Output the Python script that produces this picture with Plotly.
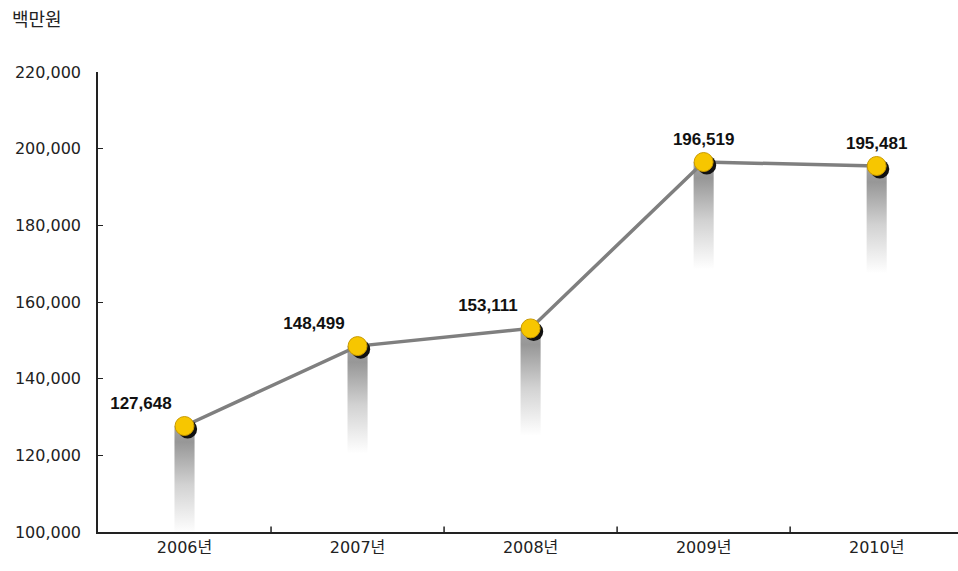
import plotly.graph_objects as go

categories = ["2006년", "2007년", "2008년", "2009년", "2010년"]
values = [127648, 148499, 153111, 196519, 195481]
value_labels = ["127,648", "148,499", "153,111", "196,519", "195,481"]
y_tickvals = [100000, 120000, 140000, 160000, 180000, 200000, 220000]
y_ticktext = ["100,000", "120,000", "140,000", "160,000", "180,000", "200,000", "220,000"]
unit_label = "백만원"

xs = list(range(len(categories)))
fig = go.Figure()

# gradient shadow columns under each point
col_half = 0.058
col_len = 28000
for x, v in zip(xs, values):
    fig.add_trace(go.Scatter(
        x=[x - col_half, x + col_half, x + col_half, x - col_half, x - col_half],
        y=[v, v, v - col_len, v - col_len, v],
        mode="lines", line=dict(width=0), fill="toself",
        fillgradient=dict(type="vertical", start=v - col_len, stop=v,
                          colorscale=[[0, "rgba(255,255,255,1)"], [0.45, "#d2d2d2"],
                                      [0.85, "#979797"], [1, "#a2a2a2"]]),
        hoverinfo="skip", showlegend=False,
    ))

# connecting line
fig.add_trace(go.Scatter(x=xs, y=values, mode="lines",
                         line=dict(color="#7f7f7f", width=3.5),
                         hoverinfo="skip", showlegend=False))

# marker shadows
fig.add_trace(go.Scatter(x=[x + 0.018 for x in xs], y=[v - 800 for v in values],
                         mode="markers",
                         marker=dict(size=19, color="#111111"),
                         hoverinfo="skip", showlegend=False))

# markers with value labels
fig.add_trace(go.Scatter(
    x=xs, y=values, mode="markers+text",
    marker=dict(size=19, color="#F7C600", line=dict(color="#C99A00", width=1)),
    text=value_labels,
    texttemplate="<b>%{text}</b>",
    textposition=["top left", "top left", "top left", "top center", "top center"],
    textfont=dict(family="Liberation Sans, Arial, sans-serif", size=17, color="#111111"),
    showlegend=False,
))

tick_font = dict(family="DejaVu Sans, Noto Sans CJK KR", size=16, color="#222222")

fig.update_layout(
    width=958, height=571,
    margin=dict(l=98, r=0, t=72, b=39),
    paper_bgcolor="white", plot_bgcolor="white",
    xaxis=dict(range=[-0.5, 4.47], tickvals=xs, ticktext=categories,
               showgrid=False, zeroline=False, showline=True,
               linecolor="#222222", linewidth=1.5, ticks="",
               tickfont=tick_font),
    yaxis=dict(range=[100000, 220000], tickvals=y_tickvals, ticktext=y_ticktext,
               showgrid=False, zeroline=False, showline=True,
               linecolor="#222222", linewidth=1.5, ticks="inside", ticklen=5,
               tickcolor="#222222", ticklabelstandoff=12,
               tickfont=tick_font),
)

fig.add_annotation(text=unit_label, xref="paper", yref="paper",
                   x=-88 / 860, y=1 + 54 / 460, xanchor="left", yanchor="middle",
                   showarrow=False,
                   font=dict(family="Noto Sans CJK KR", size=18, color="#222222"))

# category boundary ticks on x axis (inside)
for b in [0.5, 1.5, 2.5, 3.5]:
    fig.add_shape(type="line", xref="x", yref="paper", x0=b, x1=b, y0=0, y1=0.012,
                  line=dict(color="#222222", width=1.5))

fig.write_html(
    "out.html",
    config={"displayModeBar": False},
    post_script="document.body.style.margin='0';document.body.style.overflow='hidden';",
)
